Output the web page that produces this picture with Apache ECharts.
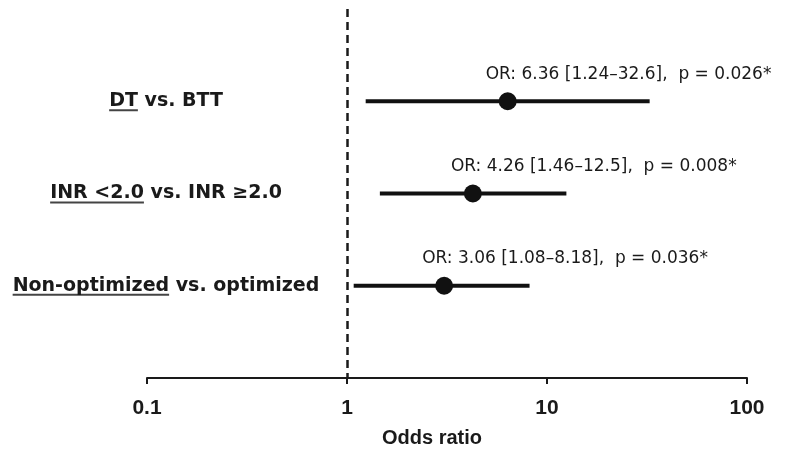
<!DOCTYPE html>
<html><head><meta charset="utf-8">
<script src="https://cdn.jsdelivr.net/npm/echarts@6/dist/echarts.min.js"></script>
<style>html,body{margin:0;padding:0;background:#fff}#c{width:785px;height:453px}</style>
</head><body><div id="c"></div>
<script>
// ---- data ----
const underlinedPart = ['DT', 'INR <2.0', 'Non-optimized'];
const restPart = [' vs. BTT', ' vs. INR ≥2.0', ' vs. optimized'];
const oddsRatios = [6.36, 4.26, 3.06];
const ciLow = [1.24, 1.46, 1.08];
const ciHigh = [32.6, 12.5, 8.18];
const pValues = ['0.026', '0.008', '0.036'];
const xTicks = [0.1, 1, 10, 100];
const categories = underlinedPart.map((u, i) => u + restPart[i]);

// underline image for rich text background
function underlineImage() {
  const c = document.createElement('canvas');
  c.width = 4; c.height = 24;
  const ctx = c.getContext('2d');
  ctx.fillStyle = '#444';
  ctx.fillRect(0, 20, 4, 2);
  return c;
}
const ul = underlineImage();

const chart = echarts.init(document.getElementById('c'), null, {renderer: 'canvas'});
const TXT = '#1a1a1a';
chart.setOption({
  animation: false,
  backgroundColor: '#fff',
  grid: {left: 147, right: 38, top: 9, bottom: 70, containLabel: false},
  xAxis: {
    type: 'log', logBase: 10, min: 0.1, max: 100,
    axisLine: {show: true, lineStyle: {color: '#1a1a1a', width: 2}},
    axisTick: {show: true, length: 6, lineStyle: {color: '#1a1a1a', width: 2}, customValues: xTicks},
    axisLabel: {
      customValues: xTicks, margin: 20,
      color: TXT, fontFamily: 'Liberation Sans', fontWeight: 'bold', fontSize: 21,
      formatter: v => String(+v.toPrecision(3))
    },
    splitLine: {show: false}, minorTick: {show: false},
    name: 'Odds ratio', nameLocation: 'middle', nameGap: 50,
    nameTextStyle: {color: TXT, fontFamily: 'Liberation Sans', fontWeight: 'bold', fontSize: 20, padding: [0, 30, 0, 0]}
  },
  yAxis: {
    type: 'category', data: categories, inverse: true, boundaryGap: false,
    min: -1, max: 3,
    axisLine: {show: false}, axisTick: {show: false}, splitLine: {show: false},
    axisLabel: {
      align: 'center', margin: -19,
      formatter: (v) => {
        const i = categories.indexOf(v);
        if (i < 0) return '';
        return '{u|' + underlinedPart[i] + '}{n|' + restPart[i] + '}';
      },
      rich: {
        u: {fontFamily: 'DejaVu Sans', fontWeight: 'bold', fontSize: 19, color: TXT, lineHeight: 24, height: 24,
            backgroundColor: {image: ul}},
        n: {fontFamily: 'DejaVu Sans', fontWeight: 'bold', fontSize: 19, color: TXT, lineHeight: 24, height: 24}
      }
    }
  },
  series: [
    {
      type: 'custom',
      renderItem: (params, api) => {
        const y = api.value(2);
        const p1 = api.coord([api.value(0), y]);
        const p2 = api.coord([api.value(1), y]);
        return {type: 'line', shape: {x1: p1[0], y1: p1[1], x2: p2[0], y2: p2[1]},
                style: {stroke: '#111', lineWidth: 4}};
      },
      encode: {x: [0, 1], y: 2},
      data: ciLow.map((l, i) => [l, ciHigh[i], i]),
      z: 2
    },
    {
      type: 'scatter',
      symbol: 'circle', symbolSize: 18,
      itemStyle: {color: '#111', opacity: 1},
      data: oddsRatios.map((v, i) => [v, i]),
      label: {
        show: true, position: [-13, -18], align: 'left', verticalAlign: 'middle',
        color: TXT, opacity: 1, fontFamily: 'DejaVu Sans', fontSize: 17,
        formatter: p => 'OR: ' + oddsRatios[p.dataIndex].toFixed(2) + ' [' + ciLow[p.dataIndex] + '–' + ciHigh[p.dataIndex] + '],  p = ' + pValues[p.dataIndex] + '*'
      },
      emphasis: {disabled: true},
      markLine: {
        silent: true, symbol: 'none', label: {show: false},
        lineStyle: {color: '#1a1a1a', width: 2.5, type: [8, 5]},
        data: [{xAxis: 1}]
      },
      z: 3
    }
  ]
});
</script></body></html>
